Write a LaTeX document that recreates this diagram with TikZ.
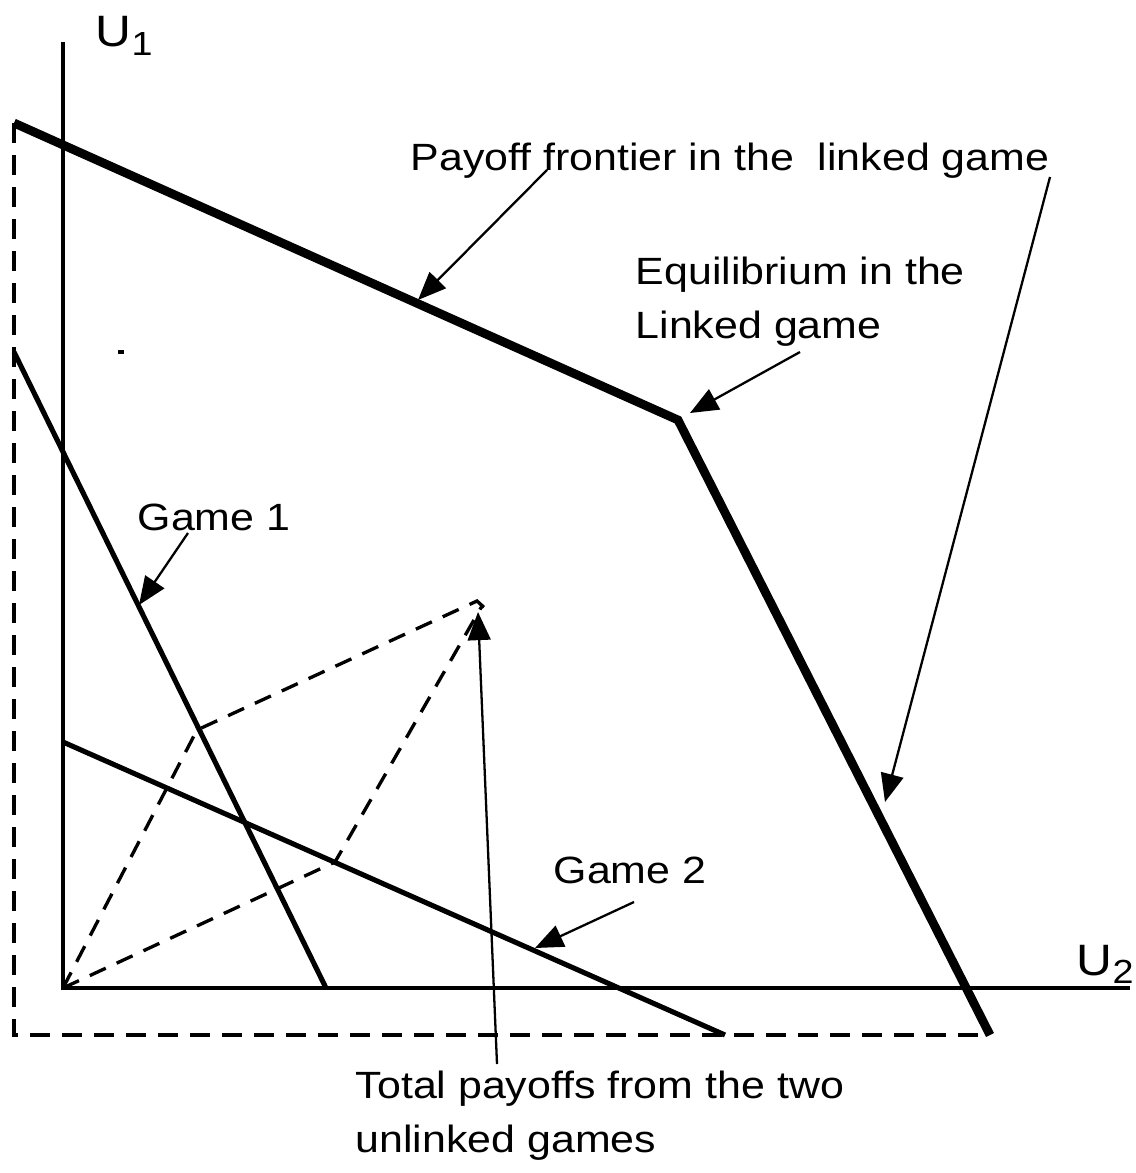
\documentclass[tikz,border=0pt]{standalone}
\usepackage{fontspec}
\setmainfont[FakeStretch=1.13]{Liberation Sans}
\usetikzlibrary{arrows.meta}
\tikzset{
	frontier/.style={line width=2.5pt, line join=miter},
	gameline/.style={line width=1.45pt},
	axisline/.style={line width=1.1pt},
	boxline/.style={line width=1.25pt, dash pattern=on 5.7pt off 3.4pt},
	sumline/.style={line width=0.95pt, dash pattern=on 5pt off 3.4pt},
	pointer/.style={line width=0.65pt, -{Triangle[length=8pt, width=6.5pt]}},
	lbl/.style={inner sep=0pt, anchor=base west, font=\fontsize{10.8}{15.2}\selectfont, align=left},
	axlbl/.style={inner sep=0pt, anchor=base west, font=\fontsize{12.5}{15}\selectfont}
}
\newcommand{\axsub}[1]{\raisebox{-0.35ex}{\fontsize{9.5}{10}\selectfont #1}}

\begin{document}
\begin{tikzpicture}[x=0.01cm, y=-0.01cm]
				\useasboundingbox (0,0) rectangle (1135,1173);
				
				% axes
				\coordinate (O) at (63,988);
				\coordinate (Ytop) at (63,42);
				\coordinate (Xend) at (1130,988);
				\draw[axisline] (Ytop) -- (O) -- (Xend);
				\node[axlbl] (U1) at (95,47) {U\axsub{1}};
				\node[axlbl] (U2) at (1076,975) {U\axsub{2}};
				
				% linked frontier and its box
				\coordinate (A) at (14,123);
				\coordinate (E) at (678,420);
				\coordinate (B) at (990,1035);
				\coordinate (C) at (14,1035);
				\draw[boxline] (A) -- (C) -- (B);
				\draw[frontier] (A) -- (E) -- (B);
				
				% the two games
				\coordinate (G1a) at (14,352);
				\coordinate (G1b) at (326,988);
				\coordinate (G2a) at (63,742);
				\coordinate (G2b) at (725,1035);
				\draw[gameline] (G1a) -- (G1b);
				\draw[gameline] (G2a) -- (G2b);
				\draw[line width=1pt] (118,352) -- (124,352);
				
				% sum of payoffs
				\coordinate (P1) at (197,730);
				\coordinate (P2) at (335,862);
				\coordinate (S) at (477,601);
				\draw[sumline] (O) -- (P1) -- (S) -- (488,611);
				\draw[sumline] (O) -- (P2) -- (482,606);
				
				% labels
				\node[lbl] (pf) at (410,170) {Payoff frontier in the\ \ linked game};
				\node[lbl] (eq) at (635,338) {Equilibrium in the\\Linked game};
				\node[lbl] (g1) at (137,530) {Game 1};
				\node[lbl] (g2) at (553,883) {Game 2};
				\node[lbl] (tp) at (355,1152) {Total payoffs from the two\\unlinked games};
				
				\coordinate (pfs1) at (547,170);
				\coordinate (pft1) at (418,300);
				\coordinate (pfs2) at (1050,177);
				\coordinate (pft2) at (885,802);
				\coordinate (eqs) at (800,352);
				\coordinate (eqt) at (690,413);
				\coordinate (g1s) at (188,533);
				\coordinate (g1t) at (139,605);
				\coordinate (g2s) at (634,902);
				\coordinate (g2t) at (535,948);
				\coordinate (tps) at (497,1064);
				\coordinate (tpt) at (478,612);
				
				\draw[pointer] (pfs1) -- (pft1);
				\draw[pointer] (pfs2) -- (pft2);
				\draw[pointer] (eqs) -- (eqt);
				\draw[pointer] (g1s) -- (g1t);
				\draw[pointer] (g2s) -- (g2t);
				\draw[pointer] (tps) -- (tpt);
			\end{tikzpicture}
\end{document}
